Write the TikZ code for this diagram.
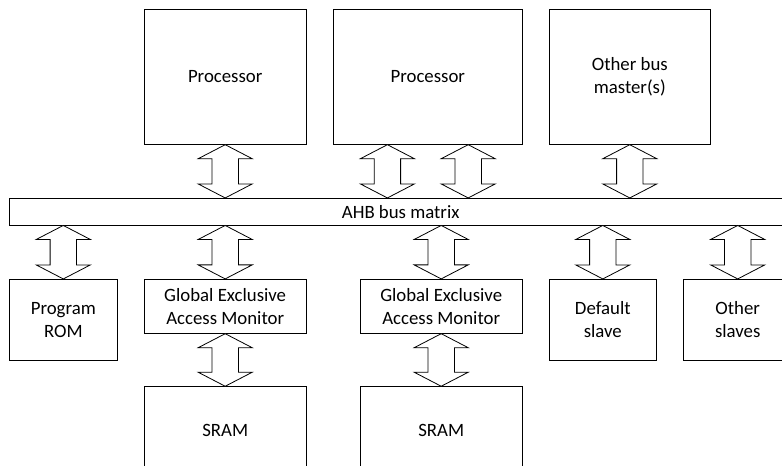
\documentclass[tikz,border=0pt]{standalone}
\usepackage{fontspec}
\setmainfont{Carlito}
\usetikzlibrary{calc}
\tikzset{
  blk/.style={draw=black, line width=0.8bp, rectangle, inner sep=0pt, align=center,
    font=\fontsize{18.8bp}{23bp}\selectfont},
  fat/.style={draw=black, line width=0.8bp, line join=miter, fill=white}
}
% #1 = upper end (gives x), #2 = lower end
\newcommand\fatdown[2]{%
  \path[fat] let \p1=(#1), \p2=(#2) in
    (\x1,\y1) -- (\x1+27bp,\y1-14bp) -- (\x1+13.2bp,\y1-14bp) -- (\x1+13.2bp,\y2+14bp)
    -- (\x1+27bp,\y2+14bp) -- (\x1,\y2) -- (\x1-27bp,\y2+14bp) -- (\x1-13.2bp,\y2+14bp)
    -- (\x1-13.2bp,\y1-14bp) -- (\x1-27bp,\y1-14bp) -- cycle;}
% #1 = lower end (gives x), #2 = upper end
\newcommand\fatup[2]{%
  \path[fat] let \p1=(#1), \p2=(#2) in
    (\x1,\y2) -- (\x1+27bp,\y2-14bp) -- (\x1+13.2bp,\y2-14bp) -- (\x1+13.2bp,\y1+14bp)
    -- (\x1+27bp,\y1+14bp) -- (\x1,\y1) -- (\x1-27bp,\y1+14bp) -- (\x1-13.2bp,\y1+14bp)
    -- (\x1-13.2bp,\y2-14bp) -- (\x1-27bp,\y2-14bp) -- cycle;}
\begin{document}
\begin{tikzpicture}[x=1bp,y=-1bp]
\useasboundingbox (0,0) rectangle (782,466);
\clip (0,0) rectangle (782,466);
% masters
\node[blk, minimum width=161.7bp, minimum height=135bp] (p1) at (225.2,76.8) {Processor};
\node[blk, minimum width=189bp, minimum height=135bp] (p2) at (427.8,76.8) {Processor};
\node[blk, minimum width=161.7bp, minimum height=135bp] (obm) at (629.8,76.8) {Other bus\\master(s)};
% bus
\node[blk, minimum width=782.7bp, minimum height=26.7bp] (bus) at (400.7,211.7) {AHB bus matrix};
% slaves
\node[blk, minimum width=108bp, minimum height=80.7bp] (rom) at (63.3,319.7) {Program\\ROM};
\node[blk, minimum width=161.7bp, minimum height=54bp] (g1) at (225.2,306.3) {Global Exclusive\\Access Monitor};
\node[blk, minimum width=162.3bp, minimum height=54bp] (g2) at (441.2,306.3) {Global Exclusive\\Access Monitor};
\node[blk, minimum width=107.7bp, minimum height=80.7bp] (ds) at (602.8,319.7) {Default\\slave};
\node[blk, minimum width=108.7bp, minimum height=80.7bp] (os) at (737.7,319.7) {Other\\slaves};
\node[blk, minimum width=161.7bp, minimum height=86.7bp] (s1) at (225.2,430) {SRAM};
\node[blk, minimum width=162.3bp, minimum height=86.7bp] (s2) at (441.2,430) {SRAM};
% connectors
\fatdown{p1.south}{bus.north}
\fatdown{$(p2.south)+(-40.4,0)$}{bus.north}
\fatdown{$(p2.south)+(40.4,0)$}{bus.north}
\fatdown{obm.south}{bus.north}
\fatup{rom.north}{bus.south}
\fatup{g1.north}{bus.south}
\fatup{g2.north}{bus.south}
\fatup{ds.north}{bus.south}
\fatup{os.north}{bus.south}
\fatup{s1.north}{g1.south}
\fatup{s2.north}{g2.south}
\end{tikzpicture}
\end{document}
